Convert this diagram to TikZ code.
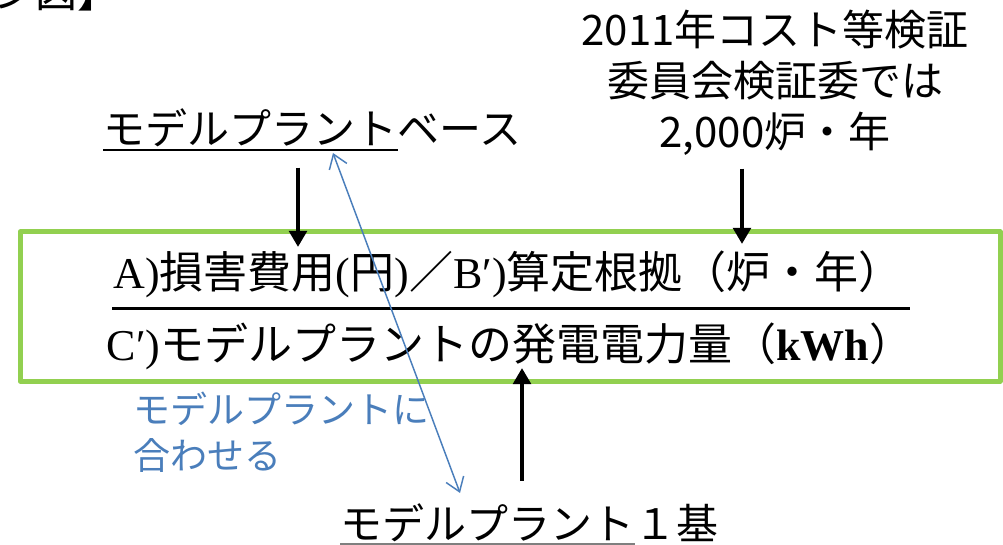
\documentclass[tikz,border=0pt]{standalone}
\usepackage{fontspec}
\setmainfont{Liberation Serif}
\newfontfamily\jpfont{Noto Sans CJK JP}
\usepackage{xcolor}
\definecolor{FrameGreen}{HTML}{92D050}
\definecolor{NoteBlue}{HTML}{4A7EBB}
\definecolor{InkBlack}{HTML}{000000}
\definecolor{LineGray}{HTML}{7F7F7F}
\usetikzlibrary{arrows.meta,calc}
\tikzset{
  jlbl/.style={font=\jpfont\fontsize{31.5}{38}\selectfont,inner sep=0pt,text=InkBlack},
  frm/.style={draw=FrameGreen,line width=3.75pt,line join=round},
  bar/.style={draw=InkBlack,line width=2.25pt},
  uln/.style={draw=InkBlack,line width=1.5pt},
  push/.style={-{Triangle[length=12pt,width=13pt]},draw=InkBlack,line width=3pt},
  match/.style={{Straight Barb[length=10pt,width=14pt]}-{Straight Barb[length=10pt,width=14pt]},
    draw=NoteBlue,line width=1.1pt},
}
\newcommand{\jp}[1]{{\jpfont #1}}

\begin{document}
\begin{tikzpicture}[x=0.75pt,y=-0.75pt,
  eq/.style={font=\fontsize{33}{40}\selectfont,inner sep=0pt,anchor=base}]
\clip (0,0) rectangle (1003,545);
\fill[white] (0,0) rectangle (1003,545);

\node[jlbl,anchor=base east] (ttl) at (120,8) {【イメージ図】};

% the cost formula
\draw[frm] (20,232) rectangle (1000,381);
\node[eq] (num) at (508,289) {A)\jp{損害費用}(\jp{円})\jp{／}B′)\jp{算定根拠（炉・年）}};
\node[eq] (den) at (510,360) {C′)\jp{モデルプラントの発電電力量（}\textbf{kWh}\jp{）}};
\draw[bar] (112,309) -- (910,309);

% labels
\node[jlbl,anchor=base west] (mpb) at (103,145) {モデルプラント};
\node[jlbl,anchor=base west] (mpb2) at (mpb.base east) {ベース};
\draw[uln] ([yshift=-4pt]mpb.base west) -- ([yshift=-4pt]mpb.base east);

\node[jlbl,align=center,anchor=north] (cmt) at (775,10)
  {2011年コスト等検証\\委員会検証委では\\2,000炉・年};

\node[jlbl,anchor=base west] (mp1) at (340,539) {モデルプラント};
\node[jlbl,anchor=base west] (mp1b) at (mp1.base east) {１基};
\draw[uln,draw=LineGray] ([yshift=-3.5pt]mp1.base west) -- ([yshift=-3.5pt]mp1.base east);

\node[jlbl,text=NoteBlue,align=left,anchor=north west,
  font=\jpfont\fontsize{27.75}{34}\selectfont] (adj) at (133,392) {モデルプラントに\\合わせる};

% arrows
\coordinate (ta) at (298,247);
\coordinate (tb) at (742,244);
\coordinate (tc) at (522,368);
\draw[push] ([yshift=-17pt]mpb.base -| ta) -- (ta);
\draw[push] ([yshift=-10pt]cmt.south -| tb) -- (tb);
\draw[push] ([yshift=16.5pt]mp1.north -| tc) -- (tc);
\draw[match] ([shift={(230,8)}]mpb.base west) -- ([shift={(120,-10)}]mp1.north west);
\end{tikzpicture}
\end{document}
